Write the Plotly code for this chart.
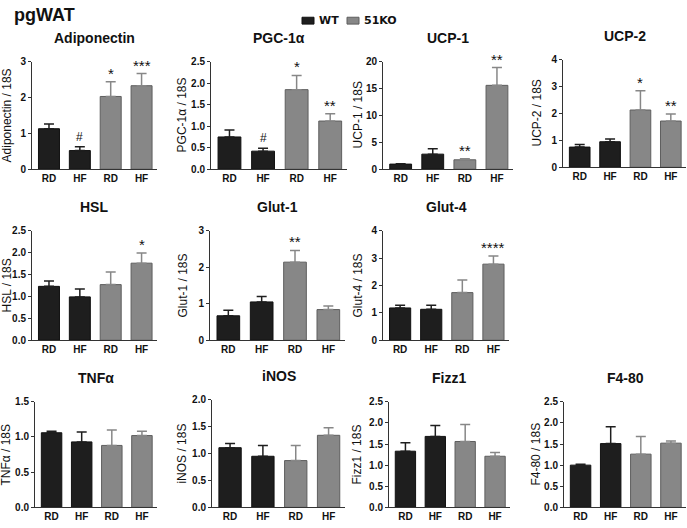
import plotly.graph_objects as go

W, H = 687, 528

# ---------------- data ----------------
groups = ["RD", "HF", "RD", "HF"]
series_names = ["WT", "51KO"]

genes = ["Adiponectin", "PGC-1α", "UCP-1", "UCP-2", "HSL", "Glut-1",
         "Glut-4", "TNFα", "iNOS", "Fizz1", "F4-80"]

adiponectin_mean = [1.13, 0.52, 2.03, 2.33]
adiponectin_err = [0.13, 0.11, 0.41, 0.34]
adiponectin_sig = ["", "#", "*", "***"]

pgc_mean = [0.75, 0.42, 1.85, 1.12]
pgc_err = [0.16, 0.07, 0.33, 0.17]
pgc_sig = ["", "#", "*", "**"]

ucp1_mean = [0.95, 2.8, 1.75, 15.6]
ucp1_err = [0.05, 1.0, 0.2, 3.3]
ucp1_sig = ["", "", "**", "**"]

ucp2_mean = [0.75, 0.95, 2.13, 1.72]
ucp2_err = [0.1, 0.1, 0.72, 0.26]
ucp2_sig = ["", "", "*", "**"]

hsl_mean = [1.23, 0.99, 1.27, 1.76]
hsl_err = [0.12, 0.18, 0.29, 0.23]
hsl_sig = ["", "", "", "*"]

glut1_mean = [0.67, 1.05, 2.14, 0.84]
glut1_err = [0.15, 0.15, 0.32, 0.1]
glut1_sig = ["", "", "**", ""]

glut4_mean = [1.18, 1.13, 1.74, 2.78]
glut4_err = [0.1, 0.15, 0.46, 0.3]
glut4_sig = ["", "", "", "****"]

tnfa_mean = [1.06, 0.93, 0.88, 1.02]
tnfa_err = [0.02, 0.14, 0.22, 0.06]
tnfa_sig = ["", "", "", ""]

inos_mean = [1.11, 0.95, 0.87, 1.34]
inos_err = [0.08, 0.2, 0.28, 0.14]
inos_sig = ["", "", "", ""]

fizz1_mean = [1.33, 1.68, 1.56, 1.21]
fizz1_err = [0.2, 0.26, 0.4, 0.09]
fizz1_sig = ["", "", "", ""]

f480_mean = [1.0, 1.51, 1.26, 1.52]
f480_err = [0.02, 0.4, 0.42, 0.05]
f480_sig = ["", "", "", ""]

y_max = [3, 2.5, 20, 4, 2.5, 3, 4, 1.5, 2.0, 2.5, 2.5]
y_step = [1, 0.5, 5, 1, 0.5, 1, 1, 0.5, 0.5, 0.5, 0.5]

means = [adiponectin_mean, pgc_mean, ucp1_mean, ucp2_mean, hsl_mean, glut1_mean,
         glut4_mean, tnfa_mean, inos_mean, fizz1_mean, f480_mean]
errs = [adiponectin_err, pgc_err, ucp1_err, ucp2_err, hsl_err, glut1_err,
        glut4_err, tnfa_err, inos_err, fizz1_err, f480_err]
sigs = [adiponectin_sig, pgc_sig, ucp1_sig, ucp2_sig, hsl_sig, glut1_sig,
        glut4_sig, tnfa_sig, inos_sig, fizz1_sig, f480_sig]

# ---------------- layout (pixel boxes: left, right, top, bottom) ----------------
boxes = [
    (32, 157, 57, 167), (211, 347, 57, 167), (383, 513, 57, 167), (563, 686, 55, 165),
    (32, 157, 230, 342), (210, 345, 230, 342), (383, 509, 230, 342),
    (35, 157, 405, 513), (212, 345, 403, 513), (389, 510, 405, 513), (564, 686, 405, 513),
]
# distance (px) from y-axis line to centre of the rotated y-axis title
title_offsets = [25, 29, 25, 27, 26, 28, 26, 29, 30, 32, 28]

WT_COLOR = "#1e1e1e"
KO_COLOR = "#878787"
FONT = "Liberation Sans"


def fx(px):
    return px / W


def fy(py):
    return 1 - py / H


fig = go.Figure()
annotations = []
layout_axes = {}

for i, gene in enumerate(genes):
    n = i + 1
    xa = "x" if n == 1 else f"x{n}"
    ya = "y" if n == 1 else f"y{n}"
    l, r, t, b = boxes[i]
    m, e = means[i], errs[i]
    xs = list(range(4))

    fig.add_trace(go.Bar(
        x=xs[:2], y=m[:2], width=0.68, xaxis=xa, yaxis=ya,
        name=series_names[0], showlegend=False,
        marker=dict(color=WT_COLOR, line=dict(color="#111111", width=1)),
        error_y=dict(type="data", symmetric=False, array=e[:2], arrayminus=[0, 0],
                     color=WT_COLOR, thickness=1.5, width=5),
    ))
    fig.add_trace(go.Bar(
        x=xs[2:], y=m[2:], width=0.68, xaxis=xa, yaxis=ya,
        name=series_names[1], showlegend=False,
        marker=dict(color=KO_COLOR, line=dict(color="#5e5e5e", width=1)),
        error_y=dict(type="data", symmetric=False, array=e[2:], arrayminus=[0, 0],
                     color=KO_COLOR, thickness=1.5, width=5),
    ))

    step = y_step[i]
    fmt = ".1f" if step < 1 else "d"
    key = "" if n == 1 else str(n)
    layout_axes["xaxis" + key] = dict(
        domain=[fx(l), fx(r)], anchor=ya, range=[-0.55, 3.5],
        tickmode="array", tickvals=xs, ticktext=[f"<b>{g}</b>" for g in groups],
        showline=True, linecolor="#333333", linewidth=1, ticks="",
        showgrid=False, zeroline=False, fixedrange=True,
        tickfont=dict(family=FONT, size=10, color="#111111"),
    )
    layout_axes["yaxis" + key] = dict(
        domain=[fy(b), fy(t)], anchor=xa, range=[0, y_max[i]],
        dtick=step, tick0=0, tickformat=fmt,
        showline=True, linecolor="#333333", linewidth=1,
        ticks="outside", ticklen=3, tickcolor="#333333",
        showgrid=False, zeroline=False, fixedrange=True,
        tickfont=dict(family=FONT, size=10, color="#111111", weight="bold"),
    )

    # panel title
    annotations.append(dict(
        text=f"<b>{gene}</b>", x=fx((l + r) / 2), y=fy(t - 24),
        xref="paper", yref="paper", showarrow=False,
        xanchor="center", yanchor="middle",
        font=dict(family=FONT, size=14, color="#111111"),
    ))
    # y-axis title
    annotations.append(dict(
        text=f"{gene} / 18S", x=fx(l - title_offsets[i]), y=fy((t + b) / 2),
        xref="paper", yref="paper", showarrow=False, textangle=-90,
        xanchor="center", yanchor="middle",
        font=dict(family=FONT, size=12, color="#111111"),
    ))
    # significance marks
    for j in range(4):
        s = sigs[i][j]
        if s:
            annotations.append(dict(
                text=s, x=j, y=m[j] + e[j], xref=xa, yref=ya,
                showarrow=False, xanchor="center", yanchor="bottom",
                yshift=-2 if s[0] == "*" else 1,
                font=dict(family=FONT, size=15 if s[0] == "*" else 12,
                          color="#111111"),
            ))

# header title
annotations.append(dict(
    text="<b>pgWAT</b>", x=fx(12), y=fy(9), xref="paper", yref="paper",
    showarrow=False, xanchor="left", yanchor="middle",
    font=dict(family=FONT, size=18, color="#111111"),
))

# legend (drawn manually)
shapes = [
    dict(type="rect", xref="paper", yref="paper",
         x0=fx(302), x1=fx(314), y0=fy(18.5), y1=fy(11.5),
         fillcolor=WT_COLOR, line=dict(color="#111111", width=1)),
    dict(type="rect", xref="paper", yref="paper",
         x0=fx(347), x1=fx(359), y0=fy(18.5), y1=fy(11.5),
         fillcolor=KO_COLOR, line=dict(color="#5e5e5e", width=1)),
]
annotations.append(dict(
    text=f"<b>{series_names[0]}</b>", x=fx(317), y=fy(15), xref="paper", yref="paper",
    showarrow=False, xanchor="left", yanchor="middle",
    font=dict(family="DejaVu Sans", size=11, color="#111111"),
))
annotations.append(dict(
    text=f"<b>{series_names[1]}</b>", x=fx(362), y=fy(15), xref="paper", yref="paper",
    showarrow=False, xanchor="left", yanchor="middle",
    font=dict(family="DejaVu Sans", size=11, color="#111111"),
))

fig.update_layout(
    width=W, height=H, margin=dict(l=0, r=0, t=0, b=0),
    paper_bgcolor="white", plot_bgcolor="white",
    showlegend=False, barmode="overlay",
    annotations=annotations, shapes=shapes,
    font=dict(family=FONT),
    **layout_axes,
)

fig.write_html(
    "out.html",
    config={"displayModeBar": False},
    post_script="document.body.style.margin='0';document.body.style.overflow='hidden';",
)
